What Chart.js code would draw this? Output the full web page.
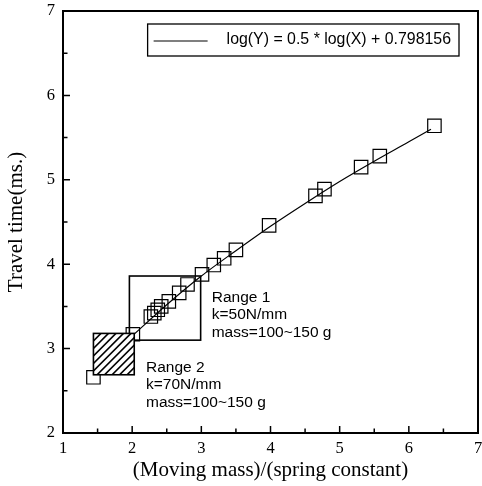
<!DOCTYPE html>
<html><head><meta charset="utf-8">
<script src="https://cdn.jsdelivr.net/npm/chart.js@4/dist/chart.umd.min.js"></script>
<style>html,body{margin:0;padding:0;background:#fff}canvas{display:block}</style>
</head><body><canvas id="c" width="482" height="486"></canvas>
<script>
// ---- data ----
const massRatio  = [1.44, 2.01, 2.27, 2.32, 2.37, 2.42, 2.53, 2.68, 2.80, 3.01, 3.18, 3.33, 3.50, 3.98, 4.65, 4.78, 5.31, 5.58, 6.37];
const travelTime = [2.66, 3.17, 3.38, 3.42, 3.46, 3.50, 3.56, 3.66, 3.76, 3.88, 3.99, 4.07, 4.17, 4.46, 4.81, 4.89, 5.15, 5.28, 5.64];
const fitX = [2.0, 2.5, 3.0, 3.5, 4.0, 4.5, 5.0, 5.5, 6.0, 6.32];
const fitY = [3.15, 3.52, 3.86, 4.16, 4.45, 4.72, 4.98, 5.22, 5.45, 5.60];
const fitLabel = 'log(Y) = 0.5 * log(X) + 0.798156';
const xTickValues = [1, 2, 3, 4, 5, 6, 7];
const yTickValues = [2, 3, 4, 5, 6, 7];
const xTitle = '(Moving mass)/(spring constant)';
const yTitle = 'Travel time(ms.)';
const range1X = [1.96, 2.99];
const range1Y = [3.10, 3.86];
const range2X = [1.44, 2.03];
const range2Y = [2.69, 3.18];
const range1Text = ['Range 1', 'k=50N/mm', 'mass=100~150 g'];
const range2Text = ['Range 2', 'k=70N/mm', 'mass=100~150 g'];
const range1TextAt = [3.15, 3.60];
const range2TextAt = [2.20, 2.77];

const SERIF = '"Liberation Serif", "Times New Roman", serif';
const SANS = '"Liberation Sans", Arial, sans-serif';

const decor = {
  id: 'decor',
  afterDatasetsDraw(chart) {
    const {ctx, chartArea: a, scales: {x, y}} = chart;
    ctx.save();
    ctx.strokeStyle = '#000';
    ctx.fillStyle = '#000';

    // Range 1 box
    {
      const l = x.getPixelForValue(range1X[0]), r = x.getPixelForValue(range1X[1]);
      const t = y.getPixelForValue(range1Y[1]), b = y.getPixelForValue(range1Y[0]);
      ctx.lineWidth = 1.6;
      ctx.strokeRect(l, t, r - l, b - t);
    }
    // Range 2 hatched box
    {
      const l = x.getPixelForValue(range2X[0]), r = x.getPixelForValue(range2X[1]);
      const t = y.getPixelForValue(range2Y[1]), b = y.getPixelForValue(range2Y[0]);
      ctx.fillStyle = '#fff';
      ctx.fillRect(l, t, r - l, b - t);
      ctx.save();
      ctx.beginPath(); ctx.rect(l, t, r - l, b - t); ctx.clip();
      ctx.lineWidth = 1.6;
      const h = b - t;
      for (let px = l - h; px < r + 2; px += 7.5) {
        ctx.beginPath();
        ctx.moveTo(px, b);
        ctx.lineTo(px + h, t);
        ctx.stroke();
      }
      ctx.restore();
      ctx.lineWidth = 1.6;
      ctx.strokeRect(l, t, r - l, b - t);
    }
    // annotation texts
    ctx.fillStyle = '#000';
    ctx.font = '15.5px ' + SANS;
    ctx.textAlign = 'left';
    ctx.textBaseline = 'middle';
    const drawLines = (lines, at) => {
      const px = x.getPixelForValue(at[0]);
      const py = y.getPixelForValue(at[1]);
      lines.forEach((s, i) => ctx.fillText(s, px, py + i * 17.2));
    };
    drawLines(range1Text, range1TextAt);
    drawLines(range2Text, range2TextAt);

    // legend box
    {
      const label = chart.data.datasets[0].label;
      ctx.font = '15.9px ' + SANS;
      const tw = ctx.measureText(label).width;
      const boxR = a.right - 19, boxT = a.top + 13, boxH = 32;
      const textL = boxR - 8 - tw;
      const boxL = textL - 79;
      ctx.lineWidth = 1.3;
      ctx.strokeRect(boxL, boxT, boxR - boxL, boxH);
      ctx.beginPath();
      ctx.lineWidth = 1.1;
      ctx.moveTo(boxL + 6, boxT + boxH / 2 + 1);
      ctx.lineTo(boxL + 60, boxT + boxH / 2 + 1);
      ctx.stroke();
      ctx.fillText(label, textL, boxT + boxH / 2);
    }

    // frame
    ctx.lineWidth = 2;
    ctx.strokeRect(a.left, a.top, a.right - a.left, a.bottom - a.top);

    // inward ticks
    ctx.lineWidth = 1.5;
    ctx.beginPath();
    x.ticks.forEach(t => {
      const p = x.getPixelForValue(t.value);
      ctx.moveTo(p, a.bottom); ctx.lineTo(p, a.bottom - 7);
      if (t.value + 0.5 < x.max) {
        const m = x.getPixelForValue(t.value + 0.5);
        ctx.moveTo(m, a.bottom); ctx.lineTo(m, a.bottom - 4.5);
      }
    });
    y.ticks.forEach(t => {
      const p = y.getPixelForValue(t.value);
      ctx.moveTo(a.left, p); ctx.lineTo(a.left + 7, p);
      if (t.value + 0.5 < y.max) {
        const m = y.getPixelForValue(t.value + 0.5);
        ctx.moveTo(a.left, m); ctx.lineTo(a.left + 4.5, m);
      }
    });
    ctx.stroke();
    ctx.restore();
  }
};

new Chart(document.getElementById('c'), {
  type: 'scatter',
  data: {
    datasets: [
      {
        label: fitLabel,
        data: fitX.map((v, i) => ({x: v, y: fitY[i]})),
        showLine: true,
        borderColor: '#000',
        borderWidth: 1.2,
        pointRadius: 0,
        tension: 0.3,
        fill: false
      },
      {
        label: 'measured',
        data: massRatio.map((v, i) => ({x: v, y: travelTime[i]})),
        showLine: false,
        pointStyle: 'rect',
        pointRadius: 9.5,
        pointBorderWidth: 1.2,
        pointBorderColor: '#000',
        pointBackgroundColor: 'rgba(0,0,0,0)'
      }
    ]
  },
  options: {
    responsive: false,
    animation: false,
    devicePixelRatio: 1,
    layout: {padding: {left: 0, right: 4, top: 11, bottom: 0}, autoPadding: false},
    plugins: {legend: {display: false}, tooltip: {enabled: false}},
    scales: {
      x: {
        type: 'linear', min: 1, max: 7,
        afterBuildTicks: s => { s.ticks = xTickValues.map(v => ({value: v})); },
        afterFit: s => { s.height = 53; s.paddingLeft = 0; s.paddingRight = 0; },
        grid: {display: false, drawTicks: false},
        border: {display: false},
        ticks: {color: '#000', font: {family: SERIF, size: 16.5}, padding: 6, maxRotation: 0, autoSkip: false},
        title: {display: true, text: xTitle, color: '#000', font: {family: SERIF, size: 21}, padding: {top: 0, bottom: 3}}
      },
      y: {
        type: 'linear', min: 2, max: 7,
        afterBuildTicks: s => { s.ticks = yTickValues.map(v => ({value: v})); },
        afterFit: s => { s.width = 63; s.paddingTop = 0; s.paddingBottom = 0; },
        grid: {display: false, drawTicks: false},
        border: {display: false},
        ticks: {color: '#000', font: {family: SERIF, size: 16.5}, padding: 8},
        title: {display: true, text: yTitle, color: '#000', font: {family: SERIF, size: 21}, padding: {top: 4, bottom: 0}}
      }
    }
  },
  plugins: [decor]
});
</script>
</body></html>
